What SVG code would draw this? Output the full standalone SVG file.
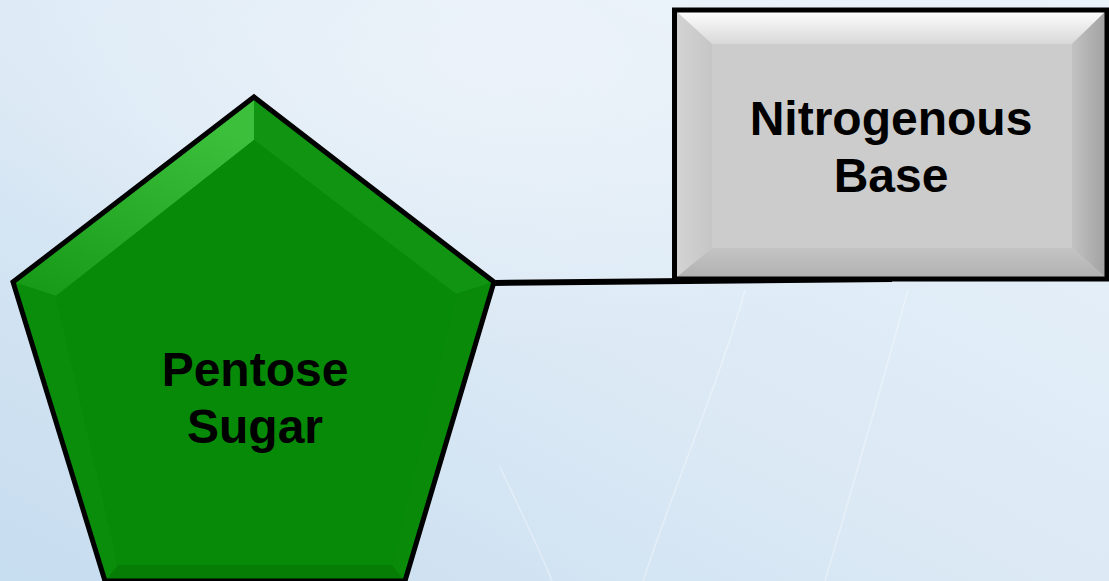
<svg xmlns="http://www.w3.org/2000/svg" width="1109" height="581" viewBox="0 0 1109 581">
<defs>
<linearGradient id="bg" x1="0" y1="1" x2="1" y2="0">
<stop offset="0" stop-color="#c6dcef"/>
<stop offset="0.45" stop-color="#dbe9f5"/>
<stop offset="1" stop-color="#eaf2fa"/>
</linearGradient>
<radialGradient id="bgTop" cx="0.45" cy="0.1" r="0.5">
<stop offset="0" stop-color="#eef4fa" stop-opacity="0.8"/>
<stop offset="1" stop-color="#eef4fa" stop-opacity="0"/>
</radialGradient>
<linearGradient id="rTop" x1="0" y1="0" x2="0" y2="1">
<stop offset="0" stop-color="#ffffff"/>
<stop offset="1" stop-color="#d8d8d8"/>
</linearGradient>
<linearGradient id="rLeft" x1="0" y1="0" x2="1" y2="0">
<stop offset="0" stop-color="#d4d4d4"/>
<stop offset="1" stop-color="#c6c6c6"/>
</linearGradient>
<linearGradient id="rRight" x1="0" y1="0" x2="1" y2="0">
<stop offset="0" stop-color="#c2c2c2"/>
<stop offset="1" stop-color="#a0a0a0"/>
</linearGradient>
<linearGradient id="rBottom" x1="0" y1="0" x2="0" y2="1">
<stop offset="0" stop-color="#c4c4c4"/>
<stop offset="1" stop-color="#b0b0b0"/>
</linearGradient>
<linearGradient id="gTL" x1="0" y1="1" x2="0.6" y2="0">
<stop offset="0" stop-color="#159815"/>
<stop offset="1" stop-color="#3cc03c"/>
</linearGradient>
<style>
.lbl{font-family:"Liberation Sans",Arial,sans-serif;font-weight:bold;font-size:48px;fill:#000;text-anchor:middle}
.edge{stroke:#000;stroke-width:6;fill:none}
.streak{fill:none;stroke:#ffffff;stroke-opacity:0.35;stroke-width:1.5}
</style>
</defs>
<rect width="1109" height="581" fill="url(#bg)"/>
<rect width="1109" height="581" fill="url(#bgTop)"/>
<path class="streak" d="M745,290 C720,380 680,470 643,581"/>
<path class="streak" d="M908,290 C880,390 855,480 825,581"/>
<path class="streak" d="M500,467 C520,510 540,550 552,581"/>

<g id="connectors">
<line class="edge" x1="494" y1="283" x2="892" y2="279"/>
</g>

<g id="nitrogenous-base">
<rect x="674.5" y="10" width="432.5" height="269" fill="#cccccc"/>
<polygon points="674.5,10 1107,10 1072,44 712,44" fill="url(#rTop)"/>
<polygon points="674.5,10 712,44 712,248 674.5,279" fill="url(#rLeft)"/>
<polygon points="1107,10 1107,279 1072,248 1072,44" fill="url(#rRight)"/>
<polygon points="674.5,279 712,248 1072,248 1107,279" fill="url(#rBottom)"/>
<rect x="674.5" y="10" width="432.5" height="269" fill="none" stroke="#000" stroke-width="5"/>
<text class="lbl" x="891" y="135">Nitrogenous</text>
<text class="lbl" x="891" y="192">Base</text>
</g>

<g id="pentose-sugar">
<polygon points="254,97 494,282 405,581 105,581 13,282" fill="#078a08"/>
<polygon points="254,97 13,282 56,296 254,140" fill="url(#gTL)"/>
<polygon points="254,97 254,140 456,294 494,282" fill="#119411"/>
<polygon points="494,282 456,294 392,565 405,581" fill="#098b09"/>
<polygon points="405,581 392,565 118,565 105,581" fill="#067e06"/>
<polygon points="105,581 118,565 56,296 13,282" fill="#0a8d0a"/>
<polygon points="254,140 456,294 392,565 118,565 56,296" fill="#078a08"/>
<polygon points="254,97 494,282 405,581 105,581 13,282" fill="none" stroke="#000" stroke-width="5" stroke-linejoin="miter"/>
<text class="lbl" x="255" y="386">Pentose</text>
<text class="lbl" x="255" y="443">Sugar</text>
</g>
</svg>
